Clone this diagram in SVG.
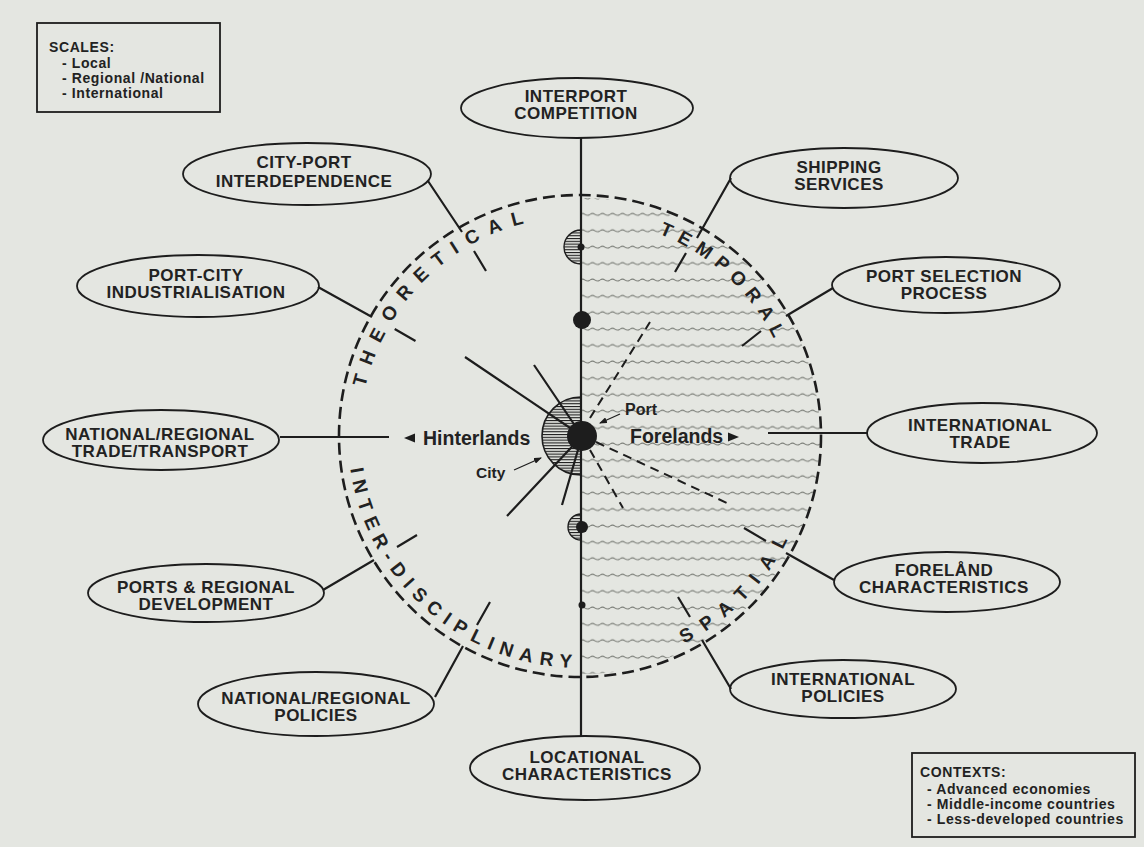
<svg xmlns="http://www.w3.org/2000/svg" width="1144" height="847" viewBox="0 0 1144 847">
<defs>
<pattern id="wave" patternUnits="userSpaceOnUse" x="0" y="196" width="10" height="16.4">
<path d="M0,2 q2.5,-1.8 5,0 t5,0" fill="none" stroke="#7a7d77" stroke-width="1"/>
</pattern>
<pattern id="hatch" patternUnits="userSpaceOnUse" x="0" y="0" width="10" height="2.8">
<rect x="0" y="0" width="10" height="1.1" fill="#1d1d1d"/>
</pattern>
<marker id="ah" markerUnits="userSpaceOnUse" markerWidth="8" markerHeight="6" refX="7" refY="3" orient="auto">
<path d="M0,0 L8,3 L0,6 Z" fill="#1d1d1d"/>
</marker>
<path id="arcTheo" d="M360.03,439.84 A220,220 0 0 1 576.16,216.03"/>
<path id="arcTemp" d="M569.59,219.25 A217,217 0 0 1 796.75,425.59"/>
<path id="arcSpat" d="M600.22,667.12 A232,232 0 0 0 811.12,456.22"/>
<path id="arcInter" d="M353.07,387.76 A232,232 0 0 0 651.69,656.65"/>
</defs>
<style>
.ell{fill:none;stroke:#1d1d1d;stroke-width:1.8}
.t{font-family:"Liberation Sans",Arial,sans-serif;font-weight:bold;font-size:17px;fill:#222;text-anchor:middle;letter-spacing:0.5px}
.box{fill:none;stroke:#1d1d1d;stroke-width:1.8}
.bt{font-family:"Liberation Sans",Arial,sans-serif;font-weight:bold;font-size:14px;fill:#222;letter-spacing:0.6px}
.ln{stroke:#1d1d1d;stroke-width:2.2;fill:none}
.dash{stroke:#1d1d1d;stroke-width:2;fill:none;stroke-dasharray:9 6}
.arc{font-family:"Liberation Sans",Arial,sans-serif;font-weight:bold;font-size:19px;fill:#222}
.sm{font-family:"Liberation Sans",Arial,sans-serif;font-weight:bold;fill:#222}
.ink{fill:#1d1d1d}
</style>
<rect x="0" y="0" width="1144" height="847" fill="#e4e6e1"/>

<g id="sea">
<path d="M582,198 A238,238 0 0 1 582,674 Z" fill="url(#wave)"/>
</g>

<g id="frame-circle">
<circle cx="580" cy="436" r="241" fill="none" stroke="#1d1d1d" stroke-width="2.6" stroke-dasharray="12 6"/>
<text class="arc" letter-spacing="10.5"><textPath href="#arcTheo" startOffset="178" text-anchor="middle">THEORETICAL</textPath></text>
<text class="arc" letter-spacing="7.5"><textPath href="#arcTemp" startOffset="174.2" text-anchor="middle">TEMPORAL</textPath></text>
<text class="arc" letter-spacing="11.8"><textPath href="#arcSpat" startOffset="167.9" text-anchor="middle">SPATIAL</textPath></text>
<text class="arc" letter-spacing="7.45"><textPath href="#arcInter" startOffset="246.7" text-anchor="middle">INTER-DISCIPLINARY</textPath></text>
</g>

<g id="connectors">
<path class="ln" d="M581,138 V736" stroke-width="2.5"/>
<path class="ln" d="M280,437 H389"/>
<path class="ln" d="M868,433 H768"/>
<path class="ln" d="M428,181 L462,232 M474,251 L486,271"/>
<path class="ln" d="M318,287 L372,317 M394.7,329 L415.5,341"/>
<path class="ln" d="M323,590 L374,560 M397,547 L417,535"/>
<path class="ln" d="M435,697 L463,646 M477,625 L490,602"/>
<path class="ln" d="M731,689 L702,640 M690,617 L678,597"/>
<path class="ln" d="M834,580 L786,553 M766,541 L744,528"/>
<path class="ln" d="M833,288 L786,316 M761,331 L742,346"/>
<path class="ln" d="M731,178 L697,238 M686,253 L675,272"/>
<path class="ln" d="M582,436 L465,357 M582,436 L534,365 M582,436 L507,516 M582,436 L562,505"/>
<path class="dash" d="M590,418 L650,322 M596,442 L727,503 M590,450 L623,508"/>
<path d="M620,414 L600,423" stroke="#1d1d1d" stroke-width="1.2" marker-end="url(#ah)"/>
<path d="M514,470 L541,458" stroke="#1d1d1d" stroke-width="1.2" marker-end="url(#ah)"/>
</g>

<g id="port-city">
<path d="M581,397 A39,39 0 0 0 581,475 Z" fill="url(#hatch)" stroke="#1d1d1d" stroke-width="1.6"/>
<path d="M581,230 A17,17 0 0 0 581,264 Z" fill="url(#hatch)" stroke="#1d1d1d" stroke-width="1.4"/>
<path d="M581,514 A13,13 0 0 0 581,540 Z" fill="url(#hatch)" stroke="#1d1d1d" stroke-width="1.4"/>
<circle class="ink" cx="582" cy="436" r="15"/>
<circle class="ink" cx="581" cy="247" r="3.5"/>
<circle class="ink" cx="582" cy="320" r="9"/>
<circle class="ink" cx="582" cy="527" r="6"/>
<circle class="ink" cx="582" cy="605" r="3.5"/>
<text class="sm" x="625" y="415" font-size="16">Port</text>
<text class="sm" x="476" y="478" font-size="15.5">City</text>
<text class="sm" x="423" y="445" font-size="19.5">Hinterlands</text>
<polygon class="ink" points="404,438 415,433.5 415,442.5"/>
<text class="sm" x="630" y="443" font-size="19.5">Forelands</text>
<polygon class="ink" points="739,437 728,432.5 728,441.5"/>
</g>

<g id="interport-competition">
<ellipse class="ell" cx="577" cy="108" rx="116" ry="30"/>
<text class="t" x="576" y="102">INTERPORT</text>
<text class="t" x="576" y="119">COMPETITION</text>
</g>
<g id="city-port-interdependence">
<ellipse class="ell" cx="307" cy="174" rx="124" ry="31"/>
<text class="t" x="304" y="168">CITY-PORT</text>
<text class="t" x="304" y="187">INTERDEPENDENCE</text>
</g>
<g id="port-city-industrialisation">
<ellipse class="ell" cx="198" cy="286" rx="121" ry="31"/>
<text class="t" x="196" y="281">PORT-CITY</text>
<text class="t" x="196" y="298">INDUSTRIALISATION</text>
</g>
<g id="national-regional-trade">
<ellipse class="ell" cx="161" cy="440" rx="118" ry="30"/>
<text class="t" x="160" y="440">NATIONAL/REGIONAL</text>
<text class="t" x="160" y="457">TRADE/TRANSPORT</text>
</g>
<g id="ports-regional-development">
<ellipse class="ell" cx="206" cy="593" rx="118" ry="29"/>
<text class="t" x="206" y="593">PORTS &amp; REGIONAL</text>
<text class="t" x="206" y="610">DEVELOPMENT</text>
</g>
<g id="national-regional-policies">
<ellipse class="ell" cx="316" cy="704" rx="118" ry="32"/>
<text class="t" x="316" y="704">NATIONAL/REGIONAL</text>
<text class="t" x="316" y="721">POLICIES</text>
</g>
<g id="locational-characteristics">
<ellipse class="ell" cx="585" cy="768" rx="115" ry="32"/>
<text class="t" x="587" y="763">LOCATIONAL</text>
<text class="t" x="587" y="780">CHARACTERISTICS</text>
</g>
<g id="international-policies">
<ellipse class="ell" cx="843" cy="689" rx="113" ry="29"/>
<text class="t" x="843" y="685">INTERNATIONAL</text>
<text class="t" x="843" y="702">POLICIES</text>
</g>
<g id="foreland-characteristics">
<ellipse class="ell" cx="947" cy="582" rx="113" ry="30"/>
<text class="t" x="944" y="576">FORELÅND</text>
<text class="t" x="944" y="593">CHARACTERISTICS</text>
</g>
<g id="international-trade">
<ellipse class="ell" cx="982" cy="433" rx="115" ry="30"/>
<text class="t" x="980" y="431">INTERNATIONAL</text>
<text class="t" x="980" y="448">TRADE</text>
</g>
<g id="port-selection-process">
<ellipse class="ell" cx="946" cy="285" rx="114" ry="28"/>
<text class="t" x="944" y="282">PORT SELECTION</text>
<text class="t" x="944" y="299">PROCESS</text>
</g>
<g id="shipping-services">
<ellipse class="ell" cx="844" cy="178" rx="114" ry="30"/>
<text class="t" x="839" y="173">SHIPPING</text>
<text class="t" x="839" y="190">SERVICES</text>
</g>

<g id="scales">
<rect class="box" x="37" y="23" width="183" height="89"/>
<text class="bt" x="49" y="52">SCALES:</text>
<text class="bt" x="62" y="68">- Local</text>
<text class="bt" x="62" y="83">- Regional /National</text>
<text class="bt" x="62" y="98">- International</text>
</g>
<g id="contexts">
<rect class="box" x="912" y="753" width="223" height="84"/>
<text class="bt" x="920" y="777">CONTEXTS:</text>
<text class="bt" x="927" y="794">- Advanced economies</text>
<text class="bt" x="927" y="809">- Middle-income countries</text>
<text class="bt" x="927" y="824">- Less-developed countries</text>
</g>
</svg>
